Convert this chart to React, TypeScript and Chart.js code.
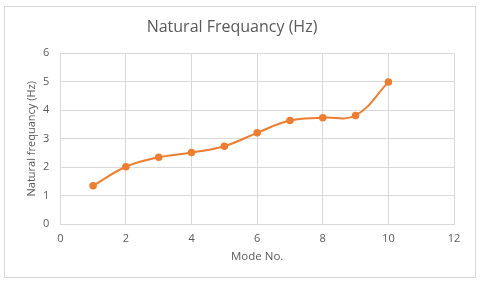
import React, { useEffect, useRef } from "react";
import { Chart, registerables } from "chart.js";

Chart.register(...registerables);

const modeNumbers = [1, 2, 3, 4, 5, 6, 7, 8, 9, 10];
const naturalFrequency = [1.35, 2.02, 2.35, 2.52, 2.74, 3.21, 3.64, 3.74, 3.82, 4.99];
const chartTitle = "Natural Frequancy (Hz)";
const xTitle = "Mode No.";
const yTitle = "Natural frequancy (Hz)";

const FONT = "'Open Sans', 'DejaVu Sans', sans-serif";
const TEXT = "#595959";
const GRID = "#d9d9d9";
const ORANGE = "#ED7D31";

export default function App() {
  const ref = useRef<HTMLCanvasElement | null>(null);

  useEffect(() => {
    if (!ref.current) return;
    const chart = new Chart(ref.current, {
      type: "line",
      data: {
        datasets: [
          {
            label: "Natural Frequency",
            data: modeNumbers.map((m, i) => ({ x: m, y: naturalFrequency[i] })),
            borderColor: ORANGE,
            backgroundColor: ORANGE,
            borderWidth: 2,
            pointRadius: 3.75,
            pointBorderWidth: 0,
            pointBackgroundColor: ORANGE,
            tension: 0.4,
            fill: false,
          },
        ],
      },
      options: {
        responsive: false,
        animation: false,
        layout: { padding: { left: 10, right: 26, top: 0, bottom: 19 } },
        plugins: {
          legend: { display: false },
          tooltip: { enabled: false },
          title: {
            display: true,
            text: chartTitle,
            color: TEXT,
            font: { family: FONT, size: 16, weight: "normal" },
            padding: { top: 17.7, bottom: 16.4 },
          },
        },
        scales: {
          x: {
            type: "linear",
            min: 0,
            max: 12,
            ticks: { stepSize: 2, color: TEXT, font: { family: FONT, size: 11 }, padding: 8 },
            grid: { color: GRID, drawTicks: false },
            border: { color: GRID },
            title: {
              display: true,
              text: xTitle,
              color: TEXT,
              font: { family: FONT, size: 11.5 },
              padding: { top: 4, bottom: 0 },
            },
            afterFit: (scale: any) => {
              scale.height = 39.7;
            },
          },
          y: {
            type: "linear",
            min: 0,
            max: 6,
            ticks: { stepSize: 1, color: TEXT, font: { family: FONT, size: 11 }, padding: 11 },
            grid: { color: GRID, drawTicks: false },
            border: { color: GRID },
            title: {
              display: true,
              text: yTitle,
              color: TEXT,
              font: { family: FONT, size: 11 },
              padding: { top: 15, bottom: 0 },
            },
            afterFit: (scale: any) => {
              scale.width = 50.3;
            },
          },
        },
      },
    });
    return () => chart.destroy();
  }, []);

  return (
    <div style={{ position: "fixed", left: 0, top: 0, width: 480, height: 283, background: "#fff" }}>
      <div
        style={{
          position: "absolute",
          left: 4,
          top: 6,
          width: 470,
          height: 270,
          border: "1px solid #d9d9d9",
        }}
      />
      <canvas ref={ref} width={480} height={283} style={{ position: "absolute", left: 0, top: 0 }} />
    </div>
  );
}
